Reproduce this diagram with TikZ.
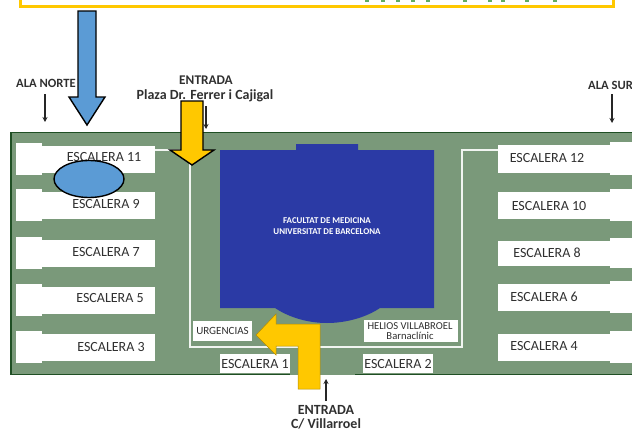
\documentclass[tikz,border=0pt]{standalone}
\usepackage{fontspec}
\setmainfont{Carlito}
\definecolor{mapgreen}{HTML}{7A997A}
\definecolor{edgegreen}{HTML}{1F4F24}
\definecolor{facblue}{HTML}{2B3AA5}
\definecolor{sky}{HTML}{5B9BD5}
\definecolor{gold}{HTML}{FFC800}
\definecolor{ink}{HTML}{303030}
\usetikzlibrary{arrows.meta}
\tikzset{
  room/.style={fill=white,draw=none},
  stairlabel/.style={text=ink,font=\fontsize{14}{14}\selectfont,inner sep=0pt},
  smalllabel/.style={text=ink,font=\fontsize{12.6}{13}\selectfont\bfseries,inner sep=0pt},
  wide label/.style={text=ink,font=\fontsize{14}{14}\selectfont\bfseries,inner sep=0pt},
  whitelabel/.style={text=white,font=\fontsize{8.9}{11}\selectfont\bfseries,inner sep=0pt},
  roomlabel/.style={text=ink,font=\fontsize{11}{11}\selectfont,inner sep=0pt},
  pointer/.style={-{Stealth[length=5pt,width=5pt]},line width=1.2pt,color=black!85},
  bigarrow/.style={draw=black,line width=1.4pt,line join=miter},
}
\begin{document}
\begin{tikzpicture}[x=1pt,y=-1pt]
\useasboundingbox (0,0) rectangle (632,431);
\clip (0,0) rectangle (632,431);
% top box remnant
\draw[gold,line width=2.7pt] (20.5,-2) -- (20.5,6.2) -- (613.5,6.2) -- (613.5,-2);
\foreach \x in {367,383,398,413,428,465,490,503,527,555}
  \fill[mapgreen!80!green] (\x-2,0) rectangle (\x+2,1.6);
% building ground
\fill[mapgreen] (11,132) rectangle (632,375);
\draw[edgegreen,line width=1.6pt] (632,132.5) -- (11,132.5) -- (11,374.5) -- (290,374.5);
\draw[edgegreen,line width=1.6pt] (355,374.5) -- (632,374.5);
% left wing rooms
\foreach \t/\b in {143/175,189/221,237/269,284/316,331/363}{
  \fill[room] (16,\t) rectangle (42,\b);
  \fill[room] (42,\t+2.5) rectangle (155,\b-2.5);
}
% right wing rooms
\foreach \t/\b in {142/175,189/221,238/268,281/313,331/363}{
  \fill[room] (610,\t) rectangle (632,\b);
  \fill[room] (498,\t+2.5) rectangle (610,\b-2.5);
}
% corridor line
\draw[white,line width=1.8pt,opacity=.9] (155,150) -- (190,150) -- (190,347) -- (462,347) -- (462,150) -- (498,150);
% faculty block
\fill[facblue] (220,150) -- (296,150) -- (296,144) -- (358,144) -- (358,150) -- (434,150) -- (434,308)
  -- (380,308) .. controls (365,318) and (345,323) .. (327,323) .. controls (309,323) and (290,318) .. (275,308)
  -- (220,308) -- cycle;
\node[whitelabel,align=center] (fac) at (327,226.5) {FACULTAT DE MEDICINA\\UNIVERSITAT DE BARCELONA};
% rooms in the courtyard
\fill[room] (193,321) rectangle (252,341);
\fill[room] (364,320) rectangle (458,342);
\fill[room] (220,354) rectangle (290,373);
\fill[room] (363,354) rectangle (433,373);
\node[roomlabel] (urg) at (222.5,330.5) {URGENCIAS};
\node[roomlabel,align=center,font=\fontsize{10.6}{10}\selectfont] (hel) at (410,331) {HELIOS VILLABROEL\\Barnaclínic};
\node[stairlabel] (e1) at (255,364) {ESCALERA 1};
\node[stairlabel] (e2) at (398,364) {ESCALERA 2};
% stair labels
\node[stairlabel] (e11) at (104,157) {ESCALERA 11};
\node[stairlabel] (e9) at (106,204) {ESCALERA 9};
\node[stairlabel] (e7) at (106,252.5) {ESCALERA 7};
\node[stairlabel] (e5) at (110,298.5) {ESCALERA 5};
\node[stairlabel] (e3) at (111,347.5) {ESCALERA 3};
\node[stairlabel] (e12) at (547,158.5) {ESCALERA 12};
\node[stairlabel] (e10) at (549,206.5) {ESCALERA 10};
\node[stairlabel] (e8) at (547,252.5) {ESCALERA 8};
\node[stairlabel] (e6) at (544,297) {ESCALERA 6};
\node[stairlabel] (e4) at (544,346.5) {ESCALERA 4};
% outside labels
\node[smalllabel,anchor=west] (north) at (16,83) {ALA NORTE};
\node[smalllabel,anchor=west] (south) at (588,85) {ALA SUR};
\node[smalllabel,font=\fontsize{13.3}{14}\selectfont\bfseries] (ent1) at (206,80) {ENTRADA};
\node[wide label] (plaza) at (205,96) {Plaza Dr. Ferrer i Cajigal};
\node[wide label] (ent2) at (326,410) {ENTRADA};
\node[wide label] (vill) at (326,423.5) {C/ Villarroel};
% small pointers
\coordinate (na) at (45,94); \coordinate (nb) at (45,122);
\coordinate (sa) at (612,94); \coordinate (sb) at (612,123);
\coordinate (pa) at (206,106); \coordinate (pb) at (206,129);
\coordinate (va) at (326,401); \coordinate (vb) at (326,379);
\draw[pointer] (na) -- (nb);
\draw[pointer] (sa) -- (sb);
\draw[pointer] (pa) -- (pb);
\draw[pointer] (va) -- (vb);
% big arrows
\draw[bigarrow,fill=sky] (78,11) -- (96,11) -- (96,97) -- (105,97) -- (87,125) -- (69,97) -- (78,97) -- cycle;
\draw[bigarrow,fill=gold] (181,101) -- (203,101) -- (203,150) -- (214,150) -- (192,165) -- (170,150) -- (181,150) -- cycle;
\draw[bigarrow,fill=sky] (89,179) ellipse [x radius=35, y radius=18.5];
\draw[fill=gold,draw=gold!70!black,line width=.5pt] (320,324) -- (320,389) -- (298,389) -- (298,346) -- (276,346) -- (276,355) -- (256,335) -- (276,314) -- (276,324) -- cycle;
\end{tikzpicture}
\end{document}
